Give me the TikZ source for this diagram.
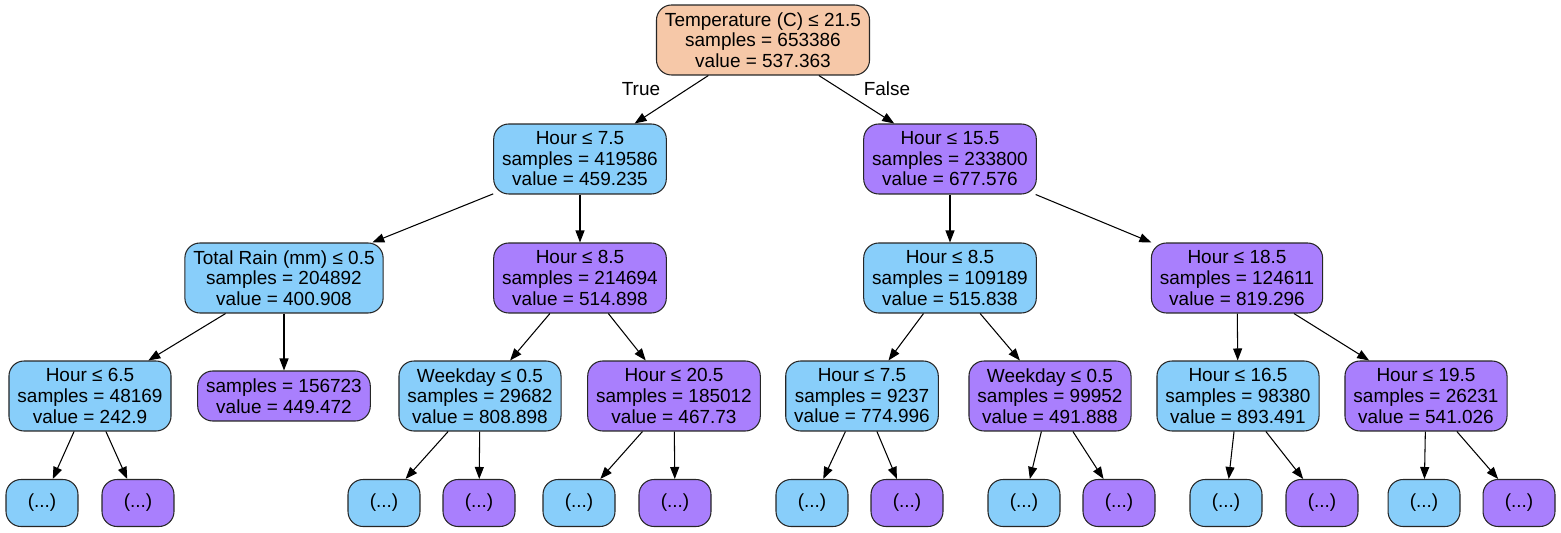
\documentclass[tikz,border=0pt]{standalone}
\usepackage{fontspec}
\setmainfont{Liberation Sans}
\usetikzlibrary{arrows.meta}
\definecolor{rootpeach}{HTML}{F6C8A8}
\definecolor{lowblue}{HTML}{88CEFA}
\definecolor{highpurple}{HTML}{A97FFD}
\begin{document}
\begin{tikzpicture}[x=0.02cm, y=-0.02cm,
  box/.style={shape=rectangle, rounded corners=0.3cm, draw=black!85, line width=0.6pt, align=center, inner xsep=0.17cm, inner ysep=0pt, font=\fontsize{10.8}{11.7}\selectfont},
  split/.style={box, minimum height=1.4cm},
  leaf/.style={box, minimum height=1.0cm},
  more/.style={box, minimum height=0.94cm, minimum width=1.44cm},
  lbl/.style={font=\fontsize{10.8}{11.7}\selectfont, inner sep=0pt},
  arrow/.style={-{Triangle[length=0.24cm, width=0.18cm]}, line width=0.6pt, draw=black}]
\useasboundingbox (0,0) rectangle (1561,533);
\node[split, fill=rootpeach] (0) at (763,40) {Temperature (C) ≤ 21.5\\samples = 653386\\value = 537.363};
\node[split, fill=lowblue] (1) at (580,159) {Hour ≤ 7.5\\samples = 419586\\value = 459.235};
\node[split, fill=highpurple] (2) at (950,159) {Hour ≤ 15.5\\samples = 233800\\value = 677.576};
\node[split, fill=lowblue] (3) at (284,278) {Total Rain (mm) ≤ 0.5\\samples = 204892\\value = 400.908};
\node[split, fill=highpurple] (4) at (580,278) {Hour ≤ 8.5\\samples = 214694\\value = 514.898};
\node[split, fill=lowblue] (5) at (950,278) {Hour ≤ 8.5\\samples = 109189\\value = 515.838};
\node[split, fill=highpurple] (6) at (1237,278) {Hour ≤ 18.5\\samples = 124611\\value = 819.296};
\node[split, fill=lowblue] (7) at (90,396) {Hour ≤ 6.5\\samples = 48169\\value = 242.9};
\node[leaf, fill=highpurple] (8) at (284,396) {samples = 156723\\value = 449.472};
\node[split, fill=lowblue] (9) at (480,396) {Weekday ≤ 0.5\\samples = 29682\\value = 808.898};
\node[split, fill=highpurple] (10) at (674,396) {Hour ≤ 20.5\\samples = 185012\\value = 467.73};
\node[split, fill=lowblue] (11) at (862,396) {Hour ≤ 7.5\\samples = 9237\\value = 774.996};
\node[split, fill=highpurple] (12) at (1050,396) {Weekday ≤ 0.5\\samples = 99952\\value = 491.888};
\node[split, fill=lowblue] (13) at (1238,396) {Hour ≤ 16.5\\samples = 98380\\value = 893.491};
\node[split, fill=highpurple] (14) at (1426,396) {Hour ≤ 19.5\\samples = 26231\\value = 541.026};
\node[more, fill=lowblue] (15) at (42,503) {(...)};
\node[more, fill=highpurple] (16) at (138,503) {(...)};
\node[more, fill=lowblue] (17) at (384,503) {(...)};
\node[more, fill=highpurple] (18) at (479,503) {(...)};
\node[more, fill=lowblue] (19) at (579,503) {(...)};
\node[more, fill=highpurple] (20) at (675,503) {(...)};
\node[more, fill=lowblue] (21) at (812,503) {(...)};
\node[more, fill=highpurple] (22) at (907,503) {(...)};
\node[more, fill=lowblue] (23) at (1024,503) {(...)};
\node[more, fill=highpurple] (24) at (1119,503) {(...)};
\node[more, fill=lowblue] (25) at (1226,503) {(...)};
\node[more, fill=highpurple] (26) at (1322,503) {(...)};
\node[more, fill=lowblue] (27) at (1424,503) {(...)};
\node[more, fill=highpurple] (28) at (1519,503) {(...)};
\node[lbl] (T) at (641,89) {True};
\node[lbl] (F) at (887,89) {False};
\path [arrow] (0) edge (1);
\path [arrow] (0) edge (2);
\path [arrow] (1) edge (3);
\path [arrow] (1) edge (4);
\path [arrow] (2) edge (5);
\path [arrow] (2) edge (6);
\path [arrow] (3) edge (7);
\path [arrow] (3) edge (8);
\path [arrow] (4) edge (9);
\path [arrow] (4) edge (10);
\path [arrow] (5) edge (11);
\path [arrow] (5) edge (12);
\path [arrow] (6) edge (13);
\path [arrow] (6) edge (14);
\path [arrow] (7) edge (15);
\path [arrow] (7) edge (16);
\path [arrow] (9) edge (17);
\path [arrow] (9) edge (18);
\path [arrow] (10) edge (19);
\path [arrow] (10) edge (20);
\path [arrow] (11) edge (21);
\path [arrow] (11) edge (22);
\path [arrow] (12) edge (23);
\path [arrow] (12) edge (24);
\path [arrow] (13) edge (25);
\path [arrow] (13) edge (26);
\path [arrow] (14) edge (27);
\path [arrow] (14) edge (28);
\end{tikzpicture}
\end{document}
